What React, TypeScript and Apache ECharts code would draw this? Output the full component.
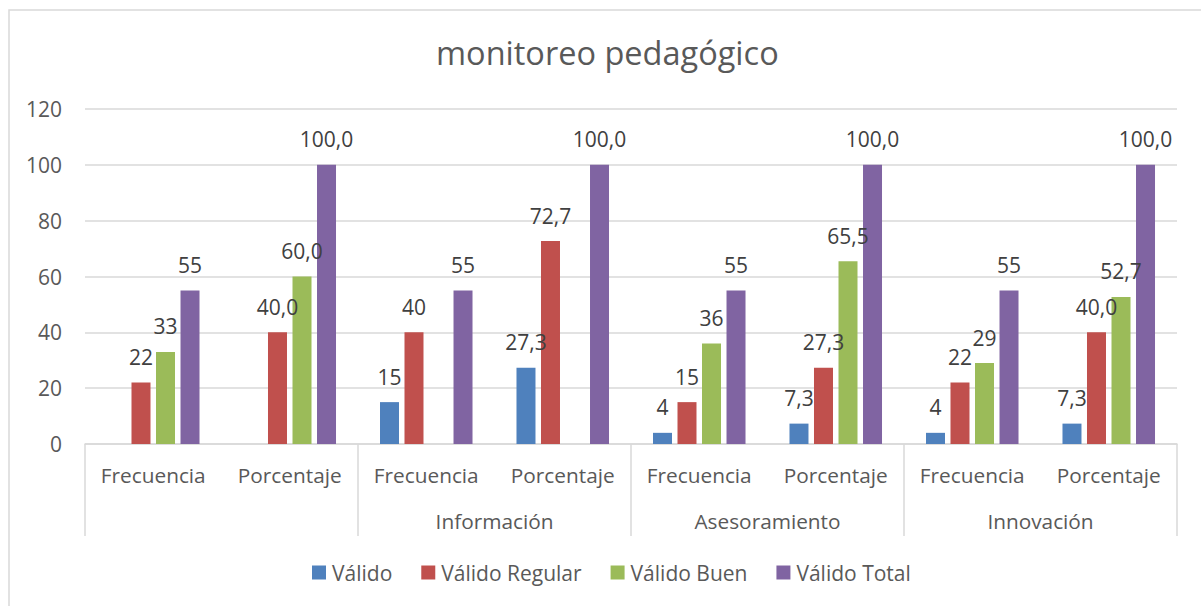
import React, { useEffect, useRef } from "react";
import * as echarts from "echarts";

const categories = ["Frecuencia", "Porcentaje", "Frecuencia", "Porcentaje", "Frecuencia", "Porcentaje", "Frecuencia", "Porcentaje"];
const groups = ["", "Información", "Asesoramiento", "Innovación"];
const seriesNames = ["Válido", "Válido Regular", "Válido Buen", "Válido Total"];
const valido = [null, null, 15, 27.3, 4, 7.3, 4, 7.3];
const validoRegular = [22, 40.0, 40, 72.7, 15, 27.3, 22, 40.0];
const validoBuen = [33, 60.0, null, null, 36, 65.5, 29, 52.7];
const validoTotal = [55, 100.0, 55, 100.0, 55, 100.0, 55, 100.0];
const colors = ["#4f81bd", "#c0504d", "#9bbb59", "#8064a2"];
const yTicks = { min: 0, max: 120, interval: 20 };

const FONT = "'Open Sans', sans-serif";

export default function App() {
  const ref = useRef<HTMLDivElement>(null);
  useEffect(() => {
    if (!ref.current) return;
    const chart = echarts.init(ref.current, null, { renderer: "svg" });
    const dataSets = [valido, validoRegular, validoBuen, validoTotal];
    const fmt = (p: any) => {
      const v = p.value;
      if (v === null || v === undefined) return "";
      return p.dataIndex % 2 === 0 ? String(Math.round(v)) : Number(v).toFixed(1).replace(".", ",");
    };
    chart.setOption({
      animation: false,
      textStyle: { fontFamily: FONT },
      title: {
        text: "monitoreo pedagógico",
        left: 431,
        top: 31,
        textStyle: { fontFamily: FONT, fontSize: 32.5, fontWeight: "normal", color: "#595959" },
      },
      graphic: [
        {
          type: "rect",
          shape: { x: 9, y: 10, width: 1200, height: 600 },
          style: { fill: "none", stroke: "#d9d9d9", lineWidth: 1.5 },
          silent: true,
        },
      ],
      legend: {
        top: 557,
        left: 307,
        itemWidth: 14,
        itemHeight: 14,
        itemGap: 29,
        icon: "rect",
        textStyle: { fontFamily: FONT, fontSize: 21, color: "#595959", padding: [0, 0, 0, 1] },
        data: seriesNames,
      },
      grid: { left: 85, right: 24, top: 109, bottom: 162, containLabel: false },
      xAxis: [
        {
          type: "category",
          data: categories,
          position: "bottom",
          axisLine: { show: true, lineStyle: { color: "#d9d9d9", width: 1.5 } },
          axisTick: { show: false },
          axisLabel: { interval: 0, margin: 20, fontFamily: FONT, fontSize: 20.8, color: "#595959" },
        },
        {
          type: "category",
          data: groups,
          position: "bottom",
          offset: 0,
          axisLine: { show: false },
          axisTick: { show: true, interval: 0, length: 92, lineStyle: { color: "#d9d9d9", width: 1.5 } },
          axisLabel: { interval: 0, margin: 66.5, fontFamily: FONT, fontSize: 20.8, color: "#595959" },
          splitLine: { show: false },
        },
      ],
      yAxis: {
        type: "value",
        min: yTicks.min,
        max: yTicks.max,
        interval: yTicks.interval,
        axisLine: { show: false },
        axisTick: { show: false },
        axisLabel: { margin: 23, fontFamily: FONT, fontSize: 21, color: "#595959" },
        splitLine: { lineStyle: { color: "#d9d9d9", width: 1.5 } },
      },
      series: seriesNames.map((name, i) => ({
        name,
        type: "bar",
        xAxisIndex: 0,
        data: dataSets[i],
        barWidth: 19,
        barGap: "29%",
        itemStyle: { color: colors[i] },
        label: {
          show: true,
          position: "top",
          distance: 15,
          formatter: fmt,
          fontFamily: FONT,
          fontSize: 21,
          color: "#404040",
        },
      })),
    });
    return () => chart.dispose();
  }, []);
  return <div ref={ref} style={{ position: "fixed", left: 0, top: 0, width: 1201, height: 606, background: "#fff" }} />;
}
